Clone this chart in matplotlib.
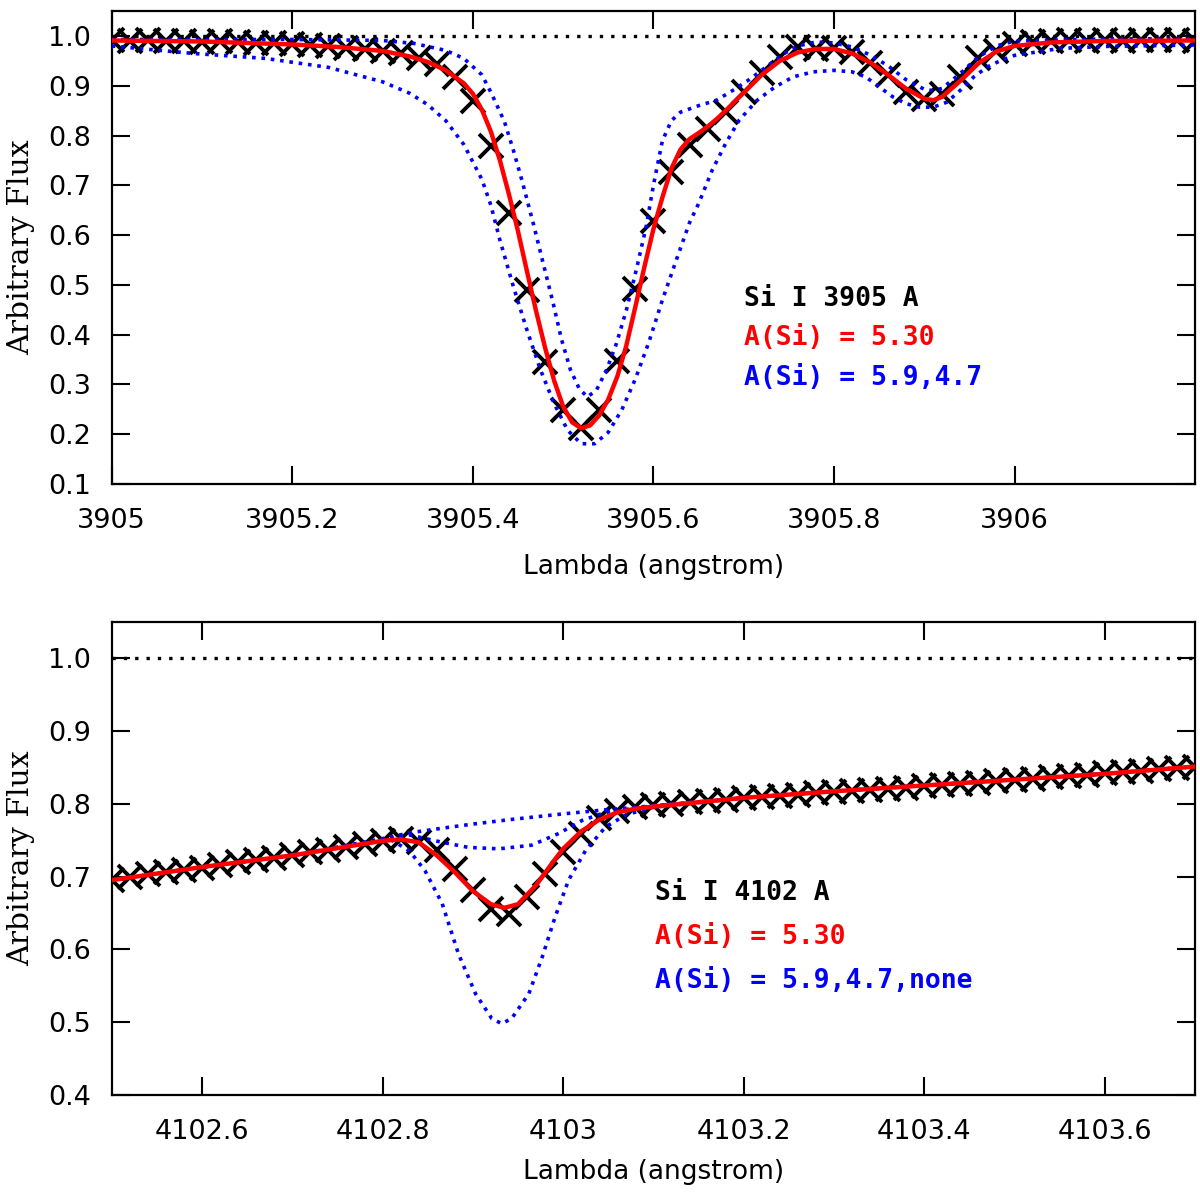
import numpy as np
import matplotlib
matplotlib.use("Agg")
import matplotlib.pyplot as plt

# ---- Si I 3905 panel ----
obs1_wave = [3905.00, 3905.02, 3905.04, 3905.06, 3905.08, 3905.10, 3905.12, 3905.14,
             3905.16, 3905.18, 3905.20, 3905.22, 3905.24, 3905.26, 3905.28, 3905.30,
             3905.32, 3905.34, 3905.36, 3905.38, 3905.40, 3905.42, 3905.44, 3905.46,
             3905.48, 3905.50, 3905.52, 3905.54, 3905.56, 3905.58, 3905.60, 3905.62,
             3905.64, 3905.66, 3905.68, 3905.70, 3905.72, 3905.74, 3905.76, 3905.78,
             3905.80, 3905.82, 3905.84, 3905.86, 3905.88, 3905.90, 3905.92, 3905.94,
             3905.96, 3905.98, 3906.00, 3906.02, 3906.04, 3906.06, 3906.08, 3906.10,
             3906.12, 3906.14, 3906.16, 3906.18, 3906.20]
obs1_flux = [0.991, 0.990, 0.991, 0.989, 0.990, 0.988, 0.989, 0.987,
             0.986, 0.985, 0.984, 0.981, 0.979, 0.976, 0.973, 0.970,
             0.965, 0.955, 0.943, 0.917, 0.870, 0.780, 0.645, 0.489,
             0.346, 0.248, 0.212, 0.248, 0.348, 0.492, 0.629, 0.727,
             0.781, 0.814, 0.847, 0.888, 0.925, 0.958, 0.978, 0.974,
             0.976, 0.968, 0.945, 0.921, 0.888, 0.874, 0.884, 0.918,
             0.955, 0.970, 0.984, 0.988, 0.990, 0.991, 0.990, 0.991,
             0.990, 0.991, 0.992, 0.991, 0.990]

fit1_wave = [3905.00, 3905.10, 3905.20, 3905.25, 3905.30, 3905.33, 3905.35, 3905.37,
             3905.39, 3905.40, 3905.41, 3905.42, 3905.43, 3905.44, 3905.45, 3905.46,
             3905.47, 3905.48, 3905.49, 3905.50, 3905.51, 3905.52, 3905.53, 3905.54,
             3905.55, 3905.56, 3905.57, 3905.58, 3905.59, 3905.60, 3905.61, 3905.62,
             3905.63, 3905.64, 3905.65, 3905.66, 3905.67, 3905.68, 3905.69, 3905.70,
             3905.72, 3905.74, 3905.76, 3905.78, 3905.80, 3905.82, 3905.84, 3905.86,
             3905.88, 3905.90, 3905.91, 3905.92, 3905.94, 3905.96, 3905.98, 3906.00,
             3906.04, 3906.10, 3906.20]
fit1_flux = [0.991, 0.989, 0.983, 0.978, 0.970, 0.959, 0.948, 0.931,
             0.905, 0.884, 0.852, 0.808, 0.750, 0.682, 0.608, 0.527,
             0.448, 0.374, 0.308, 0.256, 0.224, 0.212, 0.218, 0.238,
             0.270, 0.316, 0.378, 0.456, 0.536, 0.612, 0.676, 0.734,
             0.772, 0.793, 0.805, 0.818, 0.833, 0.850, 0.868, 0.886,
             0.922, 0.950, 0.967, 0.974, 0.974, 0.965, 0.947, 0.922,
             0.894, 0.874, 0.871, 0.878, 0.910, 0.945, 0.969, 0.980,
             0.987, 0.990, 0.991]

hi1_wave = [3905.00, 3905.09, 3905.17, 3905.24, 3905.30, 3905.33, 3905.35, 3905.37,
            3905.39, 3905.41, 3905.42, 3905.43, 3905.445, 3905.46, 3905.475, 3905.49,
            3905.505, 3905.52, 3905.535, 3905.55, 3905.565, 3905.58, 3905.595, 3905.61,
            3905.625, 3905.64, 3905.65, 3905.665, 3905.68, 3905.695, 3905.715, 3905.735,
            3905.755, 3905.777, 3905.80, 3905.82, 3905.835, 3905.85, 3905.865, 3905.88,
            3905.895, 3905.91, 3905.925, 3905.94, 3905.955, 3905.97, 3905.985, 3906.00,
            3906.05, 3906.10, 3906.20]
hi1_flux = [0.980, 0.965, 0.955, 0.937, 0.908, 0.885, 0.862, 0.830,
            0.782, 0.712, 0.660, 0.590, 0.496, 0.409, 0.329, 0.262,
            0.208, 0.181, 0.181, 0.204, 0.249, 0.311, 0.385, 0.470,
            0.548, 0.625, 0.663, 0.730, 0.784, 0.831, 0.871, 0.898,
            0.918, 0.928, 0.931, 0.928, 0.918, 0.898, 0.878, 0.864,
            0.857, 0.857, 0.867, 0.891, 0.918, 0.938, 0.951, 0.961,
            0.975, 0.979, 0.982]

lo1_wave = [3905.00, 3905.20, 3905.30, 3905.335, 3905.37, 3905.39, 3905.41, 3905.42,
            3905.435, 3905.445, 3905.455, 3905.467, 3905.478, 3905.489, 3905.498, 3905.508,
            3905.518, 3905.527, 3905.537, 3905.548, 3905.559, 3905.57, 3905.581, 3905.592,
            3905.60, 3905.61, 3905.62, 3905.63, 3905.65, 3905.67, 3905.69, 3905.705,
            3905.725, 3905.745, 3905.76, 3905.78, 3905.80, 3905.82, 3905.84, 3905.86,
            3905.88, 3905.90, 3905.91, 3905.92, 3905.94, 3905.96, 3905.98, 3906.00,
            3906.10, 3906.20]
lo1_flux = [0.993, 0.993, 0.991, 0.985, 0.971, 0.955, 0.922, 0.887,
            0.828, 0.770, 0.706, 0.623, 0.543, 0.463, 0.392, 0.330,
            0.291, 0.275, 0.289, 0.329, 0.382, 0.449, 0.530, 0.617,
            0.700, 0.790, 0.830, 0.847, 0.860, 0.871, 0.893, 0.911,
            0.938, 0.965, 0.980, 0.988, 0.986, 0.978, 0.962, 0.940,
            0.912, 0.893, 0.890, 0.895, 0.925, 0.958, 0.980, 0.990,
            0.994, 0.995]

# ---- Si I 4102 panel ----
obs2_wave = [4102.50, 4102.52, 4102.54, 4102.56, 4102.58, 4102.60, 4102.62, 4102.64,
             4102.66, 4102.68, 4102.70, 4102.72, 4102.74, 4102.76, 4102.78, 4102.80,
             4102.82, 4102.84, 4102.86, 4102.88, 4102.90, 4102.92, 4102.94, 4102.96,
             4102.98, 4103.00, 4103.02, 4103.04, 4103.06, 4103.08, 4103.10, 4103.12,
             4103.14, 4103.16, 4103.18, 4103.20, 4103.22, 4103.24, 4103.26, 4103.28,
             4103.30, 4103.32, 4103.34, 4103.36, 4103.38, 4103.40, 4103.42, 4103.44,
             4103.46, 4103.48, 4103.50, 4103.52, 4103.54, 4103.56, 4103.58, 4103.60,
             4103.62, 4103.64, 4103.66, 4103.68, 4103.70]
obs2_flux = [0.695, 0.700, 0.703, 0.706, 0.709, 0.712, 0.716, 0.720,
             0.723, 0.726, 0.729, 0.733, 0.737, 0.741, 0.745, 0.749,
             0.752, 0.747, 0.736, 0.711, 0.681, 0.656, 0.649, 0.672,
             0.704, 0.734, 0.759, 0.780, 0.790, 0.795, 0.798, 0.800,
             0.802, 0.803, 0.805, 0.808, 0.809, 0.811, 0.812, 0.814,
             0.816, 0.817, 0.819, 0.820, 0.822, 0.824, 0.826, 0.827,
             0.829, 0.831, 0.833, 0.834, 0.836, 0.838, 0.840, 0.842,
             0.843, 0.845, 0.847, 0.849, 0.851]

fit2_wave = [4102.50, 4102.60, 4102.70, 4102.80, 4102.82, 4102.84, 4102.86, 4102.88,
             4102.90, 4102.92, 4102.935, 4102.95, 4102.97, 4102.99, 4103.00, 4103.02,
             4103.04, 4103.06, 4103.08, 4103.10, 4103.20, 4103.30, 4103.40, 4103.50,
             4103.60, 4103.70]
fit2_flux = [0.695, 0.713, 0.729, 0.749, 0.751, 0.747, 0.729, 0.706,
             0.680, 0.662, 0.657, 0.662, 0.688, 0.722, 0.738, 0.762,
             0.778, 0.788, 0.793, 0.796, 0.808, 0.817, 0.825, 0.833,
             0.841, 0.851]

hi2_wave = [4102.50, 4102.60, 4102.70, 4102.80, 4102.81, 4102.83, 4102.847, 4102.866,
            4102.884, 4102.903, 4102.921, 4102.932, 4102.943, 4102.962, 4102.977, 4102.991,
            4103.006, 4103.025, 4103.047, 4103.07, 4103.10, 4103.20, 4103.30, 4103.40,
            4103.50, 4103.60, 4103.70]
hi2_flux = [0.695, 0.713, 0.729, 0.749, 0.750, 0.735, 0.708, 0.663,
            0.594, 0.539, 0.505, 0.498, 0.505, 0.539, 0.590, 0.644,
            0.695, 0.736, 0.768, 0.785, 0.795, 0.808, 0.817, 0.825,
            0.833, 0.841, 0.851]

lo2_wave = [4102.50, 4102.60, 4102.70, 4102.80, 4102.83, 4102.866, 4102.895, 4102.929,
            4102.965, 4102.995, 4103.021, 4103.047, 4103.08, 4103.10, 4103.20, 4103.30,
            4103.40, 4103.50, 4103.60, 4103.70]
lo2_flux = [0.695, 0.713, 0.729, 0.750, 0.757, 0.747, 0.740, 0.738,
            0.743, 0.759, 0.777, 0.788, 0.794, 0.797, 0.808, 0.817,
            0.825, 0.833, 0.841, 0.851]

none2_wave = [4102.50, 4102.60, 4102.70, 4102.80, 4102.83, 4102.87, 4102.90, 4102.94,
              4103.00, 4103.05, 4103.10, 4103.20, 4103.30, 4103.40, 4103.50, 4103.60,
              4103.70]
none2_flux = [0.695, 0.713, 0.729, 0.752, 0.760, 0.767, 0.772, 0.778,
              0.786, 0.792, 0.797, 0.808, 0.817, 0.825, 0.833, 0.841,
              0.851]

xticks1 = [3905.0, 3905.2, 3905.4, 3905.6, 3905.8, 3906.0]
xticks2 = [4102.6, 4102.8, 4103.0, 4103.2, 4103.4, 4103.6]
yticks1 = [0.1, 0.2, 0.3, 0.4, 0.5, 0.6, 0.7, 0.8, 0.9, 1.0]
yticks2 = [0.4, 0.5, 0.6, 0.7, 0.8, 0.9, 1.0]

RED = '#ff0000'
BLUE = '#0000ff'
dot_blue = dict(color=BLUE, lw=2.6, linestyle=(0, (1, 1.6)), zorder=3)
dot_black = dict(color='black', lw=2.4, linestyle=(0, (1, 2.4)), zorder=1)
cross = dict(linestyle='none', marker='x', ms=17, mew=2.8, color='black', zorder=2)

fig = plt.figure(figsize=(12, 11.94), dpi=100)
ax1 = fig.add_axes([0.0931, 0.5946, 0.9028, 0.3961])
ax2 = fig.add_axes([0.0931, 0.0829, 0.9028, 0.3965])


def style_axes(ax, xlim, ylim, xticks, yticks, xlabelpad):
    ax.set_xlim(*xlim)
    ax.set_ylim(*ylim)
    ax.set_xticks(xticks)
    ax.set_xticklabels(['%g' % t for t in xticks])
    ax.set_yticks(yticks)
    ax.set_yticklabels(['%.1f' % t for t in yticks])
    ax.tick_params(direction='in', length=13, width=1.5, top=True, right=True,
                   labelsize=19.5)
    ax.tick_params(axis='x', pad=17)
    ax.tick_params(axis='y', pad=15)
    for s in ax.spines.values():
        s.set_linewidth(1.6)
    ax.set_xlabel('Lambda (angstrom)', fontsize=19, labelpad=xlabelpad)
    ax.set_ylabel('Arbitrary Flux', fontsize=21.5, family='DejaVu Serif')
    ax.yaxis.set_label_coords(-0.071, 0.5)


# top panel
ax1.axhline(1.0, **dot_black)
ax1.plot(obs1_wave, obs1_flux, **cross)
ax1.plot(hi1_wave, hi1_flux, **dot_blue)
ax1.plot(lo1_wave, lo1_flux, **dot_blue)
ax1.plot(fit1_wave, fit1_flux, color=RED, lw=3.2, zorder=4)
style_axes(ax1, (3905.0, 3906.2), (0.1, 1.05), xticks1, yticks1, 15)

mono = dict(family='DejaVu Sans Mono', fontweight='bold', fontsize=19, ha='left',
            va='baseline')
ax1.text(3905.70, 0.457, 'Si I 3905 A', color='black', **mono)
ax1.text(3905.70, 0.379, 'A(Si) = 5.30', color=RED, **mono)
ax1.text(3905.70, 0.299, 'A(Si) = 5.9,4.7', color=BLUE, **mono)

# bottom panel
ax2.axhline(1.0, **dot_black)
ax2.plot(obs2_wave, obs2_flux, **cross)
ax2.plot(hi2_wave, hi2_flux, **dot_blue)
ax2.plot(lo2_wave, lo2_flux, **dot_blue)
ax2.plot(none2_wave, none2_flux, **dot_blue)
ax2.plot(fit2_wave, fit2_flux, color=RED, lw=3.2, zorder=4)
style_axes(ax2, (4102.5, 4103.7), (0.4, 1.05), xticks2, yticks2, 10)

ax2.text(4103.102, 0.668, 'Si I 4102 A', color='black', **mono)
ax2.text(4103.102, 0.608, 'A(Si) = 5.30', color=RED, **mono)
ax2.text(4103.102, 0.547, 'A(Si) = 5.9,4.7,none', color=BLUE, **mono)

fig.savefig('out.png', dpi=100)
